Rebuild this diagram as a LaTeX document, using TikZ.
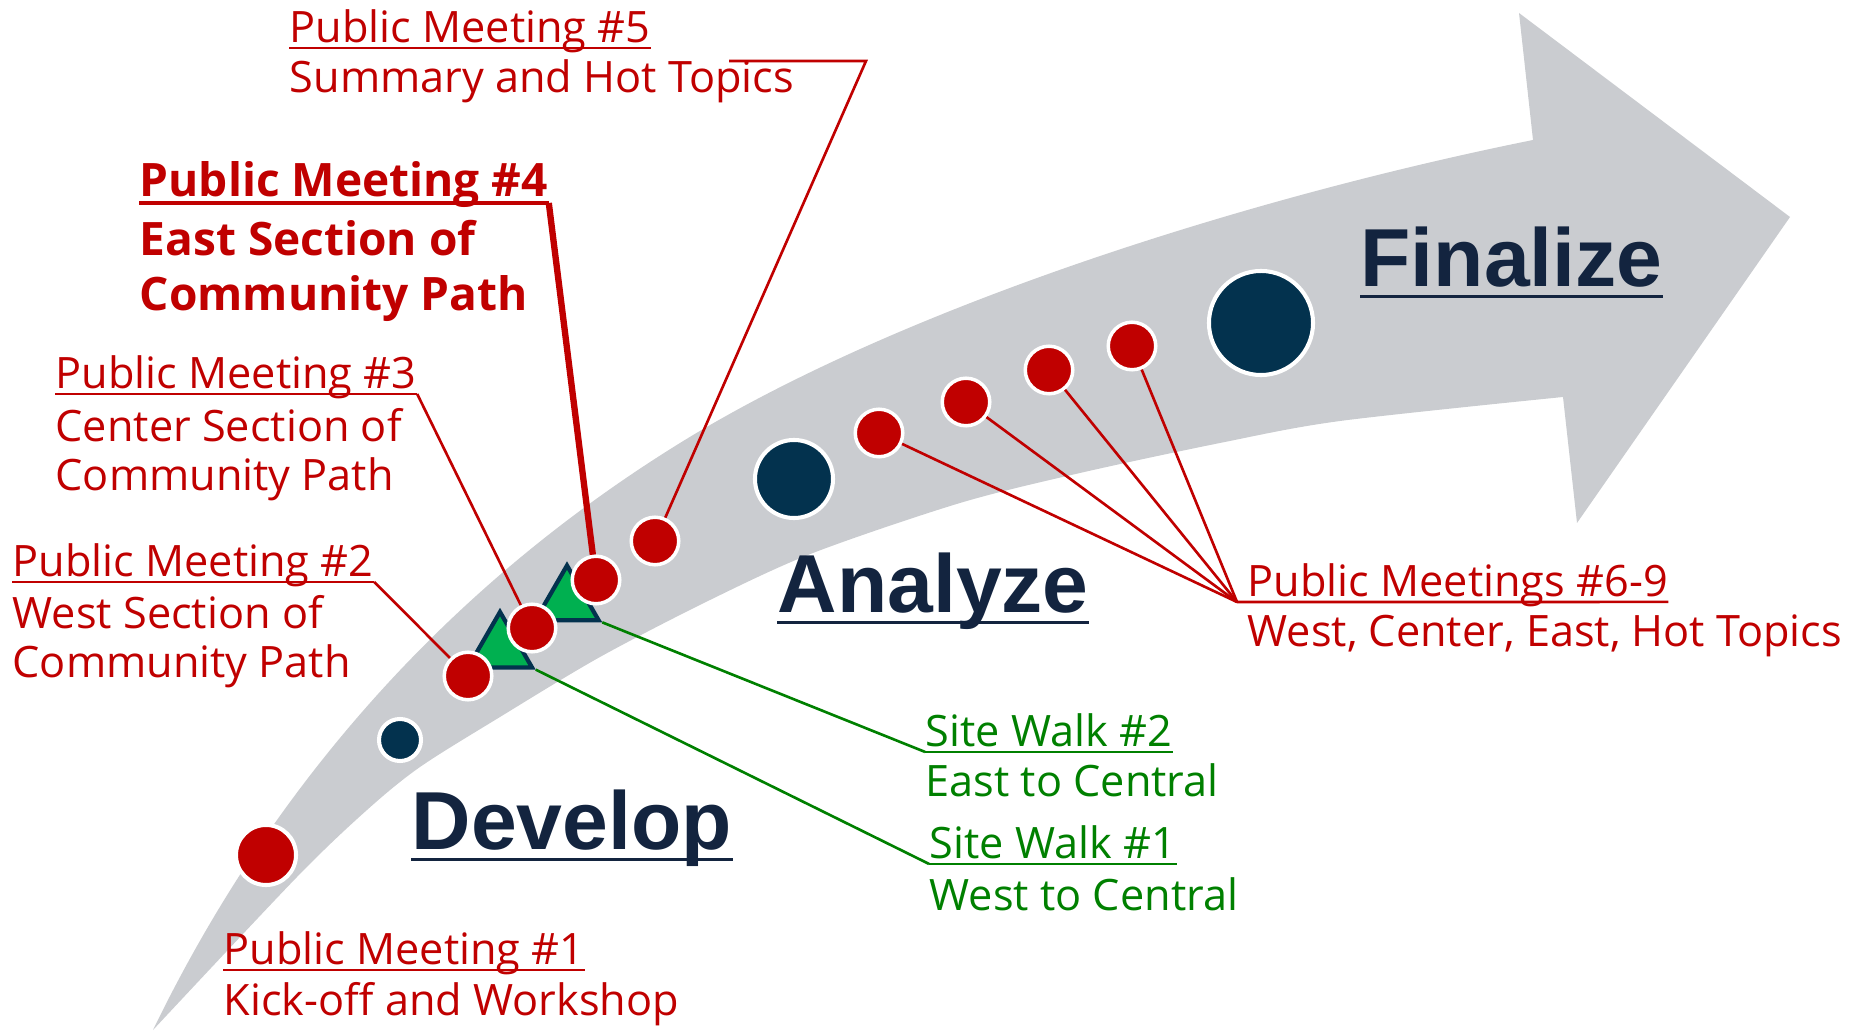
\documentclass[tikz,border=0pt]{standalone}
\usepackage{fontspec}
\setmainfont{Open Sans}
\newfontfamily\stagefont{Liberation Sans}
\usepackage{tikz}
\usetikzlibrary{shapes.geometric}

\definecolor{band}{RGB}{202,204,208}
\definecolor{mtgred}{RGB}{192,0,0}
\definecolor{dotnavy}{RGB}{3,50,78}
\definecolor{stagenavy}{RGB}{19,36,63}
\definecolor{walkgreen}{RGB}{0,128,0}
\definecolor{trigreen}{RGB}{0,176,80}

\begin{document}
\begin{tikzpicture}[x=0.01cm,y=-0.01cm,
  mtg/.style={font=\fontsize{12.3}{14.2}\selectfont,text=mtgred,inner sep=0pt,anchor=base west,align=left},
  mtgbold/.style={mtg,font=\bfseries\fontsize{13.1}{15.9}\selectfont},
  walk/.style={mtg,text=walkgreen},
  stage/.style={font=\stagefont\bfseries\fontsize{23.4}{28}\selectfont,text=stagenavy,inner sep=0pt,anchor=base west},
  mtgdot/.style={circle,draw=white,fill=mtgred,inner sep=0pt,line width=1pt,minimum size=0.475cm},
  stagedot/.style={circle,draw=white,fill=dotnavy,inner sep=0pt,line width=1.15pt},
  sitewalk/.style={regular polygon,regular polygon sides=3,draw=dotnavy,line width=1.2pt,fill=trigreen,inner sep=0pt},
  redline/.style={mtgred,line width=0.75pt},
  greenline/.style={walkgreen,line width=0.75pt}
]
\useasboundingbox (0,0) rectangle (1860,1031);

% curved arrow
\fill[band] (153,1030) .. controls (250,830) and (410,610) .. (680,443)
  .. controls (900,307) and (1250,197) .. (1533,140)
  -- (1519,13) -- (1790,217) -- (1577,523)
  -- plot[smooth] coordinates {(1563,397) (1340,421) (1220,443) (1080,473) (960,503) (813,553) (710,600) (600,657) (500,717) (420,767) (367,810) (297,877) (153,1030)} -- cycle;

% labels
\node[mtg] (pm5) at (289,43) {Public Meeting \#5};
\node[mtg] (pm5d) at (289,93) {Summary and Hot Topics};
\node[mtgbold] (pm4) at (139,197) {Public Meeting \#4};
\node[mtgbold] (pm4d) at (139,311) {East Section of\\Community Path};
\node[mtg] (pm3) at (55,389) {Public Meeting \#3};
\node[mtg] (pm3d) at (55,491) {Center Section of\\Community Path};
\node[mtg] (pm2) at (12,577) {Public Meeting \#2};
\node[mtg] (pm2d) at (12,678) {West Section of\\Community Path};
\node[mtg] (pm1) at (223,965) {Public Meeting \#1};
\node[mtg] (pm1d) at (223,1015) {Kick-off and Workshop};
\node[mtg] (pm69) at (1247,597) {Public Meetings \#6-9};
\node[mtg] (pm69d) at (1247,647) {West, Center, East, Hot Topics};
\node[walk] (sw2) at (925,747) {Site Walk \#2};
\node[walk] (sw2d) at (925,797) {East to Central};
\node[walk] (sw1) at (929,859) {Site Walk \#1};
\node[walk] (sw1d) at (929,910) {West to Central};

\node[stage] (develop) at (411,850) {Develop};
\node[stage] (analyze) at (777,613) {Analyze};
\node[stage] (finalize) at (1360,287) {Finalize};

% underlines
\foreach \n in {pm1,pm2,pm3,pm5}
  \draw[redline] ([yshift=-1.4pt]\n.base west) -- ([yshift=-1.4pt]\n.base east);
\draw[redline,line width=1.1pt] ([yshift=-1.7pt]pm4.base west) -- ([yshift=-1.7pt]pm4.base east);
\foreach \n in {sw1,sw2}
  \draw[greenline] ([yshift=-1.4pt]\n.base west) -- ([yshift=-1.4pt]\n.base east);
\foreach \n in {develop,analyze,finalize}
  \draw[stagenavy,line width=1.1pt] ([yshift=-2.7pt]\n.base west) -- ([yshift=-2.7pt]\n.base east);

% site walks
\node[sitewalk,minimum size=0.74cm] (t1) at (500,649) {};
\node[sitewalk,minimum size=0.73cm] (t2) at (567,602) {};
\draw[greenline] (t1.corner 3) -- ([yshift=-1.4pt]sw1.base west);
\draw[greenline] (t2.corner 3) -- ([yshift=-1.4pt]sw2.base west);

% meetings along the arrow
\node[mtgdot,minimum size=0.6cm,line width=1.15pt] (d1) at (266,855) {};
\node[stagedot,minimum size=0.42cm] (s1) at (400,740) {};
\node[mtgdot] (d2) at (468,676) {};
\node[mtgdot] (d3) at (532,628) {};
\node[mtgdot] (d4) at (596,580) {};
\node[mtgdot] (d5) at (655,541) {};
\node[stagedot,minimum size=0.78cm] (s2) at (794,479) {};
\foreach \i/\x/\y in {6/879/433,7/966/402,8/1049/370,9/1132/346}
  \node[mtgdot] (d\i) at (\x,\y) {};
\node[stagedot,minimum size=1.04cm] (s3) at (1261,323) {};

% callouts
\draw[redline] ([yshift=-1.4pt]pm2.base east) -- (d2);
\draw[redline] ([yshift=-1.4pt]pm3.base east) -- (d3);
\draw[redline,line width=1.8pt] ([yshift=-1.7pt]pm4.base east) -- (d4);
\coordinate (pm5a) at (729,61);
\coordinate (pm5b) at (866,61);
\draw[redline] (pm5a) -- (pm5b) -- (d5);
\coordinate (hub) at (1237,602);
\foreach \i in {6,...,9}
  \draw[redline] (d\i) -- (hub);
\draw[redline] (hub) -- ([yshift=-1.4pt]pm69.base east);
\end{tikzpicture}
\end{document}
